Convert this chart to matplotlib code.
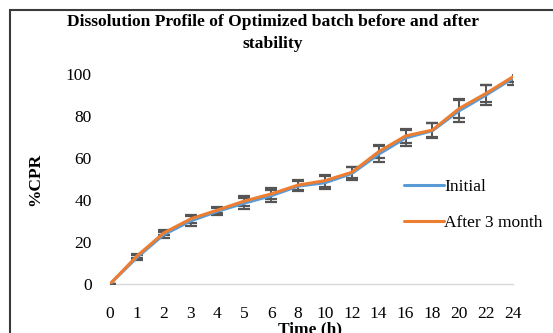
import matplotlib
matplotlib.use("Agg")
import matplotlib.pyplot as plt
from matplotlib.patches import Rectangle
import numpy as np

categories = ["0", "1", "2", "3", "4", "5", "6", "8", "10", "12", "14", "16", "18", "20", "22", "24"]
initial = [0, 12.6, 23.5, 30.0, 34.6, 38.5, 42.0, 46.6, 48.2, 52.6, 61.8, 69.5, 73.0, 82.5, 90.0, 98.0]
after_3_month = [0, 13.3, 24.3, 31.0, 35.2, 39.5, 42.9, 47.1, 49.2, 53.2, 63.0, 70.5, 73.3, 83.6, 90.8, 98.7]
err_initial = [0, 1.2, 1.4, 2.3, 1.6, 2.6, 2.8, 2.5, 3.0, 2.9, 3.9, 3.6, 3.6, 5.2, 4.8, 3.0]
err_after = [0, 1.0, 1.2, 2.0, 1.5, 2.4, 2.6, 2.3, 2.8, 2.6, 3.0, 3.2, 3.4, 4.5, 4.2, 2.5]
series_names = ["Initial", "After 3 month"]
title = "Dissolution Profile of Optimized batch before and after\nstability"

W, H = 553, 333
fig = plt.figure(figsize=(W / 100, H / 100), dpi=100)
serif = "Liberation Serif"

ax = fig.add_axes([110 / W, (H - 284) / H, (513 - 110) / W, (284 - 74) / H])
x = np.arange(len(categories))

ax.errorbar(x, initial, yerr=err_initial, fmt="none", ecolor="#555555",
            elinewidth=1.3, capsize=4, capthick=1.6, zorder=2)
ax.errorbar(x, after_3_month, yerr=err_after, fmt="none", ecolor="#555555",
            elinewidth=1.3, capsize=4, capthick=1.6, zorder=2)
ax.plot(x, initial, color="#5B9BD5", lw=2.2, label=series_names[0], zorder=3,
        solid_capstyle="round")
ax.plot(x, after_3_month, color="#ED7D31", lw=2.2, label=series_names[1], zorder=4,
        solid_capstyle="round")

ax.set_xlim(0, len(categories) - 1)
ax.set_ylim(0, 100)
ax.set_xticks(x)
ax.set_xticklabels(categories, fontfamily=serif, fontsize=12.5)
ax.set_yticks([0, 20, 40, 60, 80, 100])
ax.set_yticklabels(["0", "20", "40", "60", "80", "100"], fontfamily=serif, fontsize=12.5)
ax.tick_params(axis="both", length=0)
ax.tick_params(axis="y", pad=13)
ax.tick_params(axis="x", pad=16)
for s in ["top", "right", "left"]:
    ax.spines[s].set_visible(False)
ax.spines["bottom"].set_color("#D9D9D9")
ax.spines["bottom"].set_linewidth(1.0)
ax.spines["bottom"].set_zorder(1)

fig.text(310 / W, 1 - 329 / H, "Time (h)", ha="center", va="center",
         fontfamily=serif, fontweight="bold", fontsize=12.5)
fig.text(35 / W, 1 - 179 / H, "%CPR", ha="center", va="center", rotation=90,
         fontfamily=serif, fontweight="bold", fontsize=12.5)
fig.text(273 / W, 1 - 33 / H, title, ha="center", va="center", multialignment="center",
         fontfamily=serif, fontweight="bold", fontsize=12.6, linespacing=1.45)

leg = fig.legend(loc="upper left", bbox_to_anchor=(404 / W, 1 - 179 / H),
                 frameon=False, prop={"family": serif, "size": 12.5},
                 handlelength=2.3, handletextpad=0.0, labelspacing=1.15,
                 borderaxespad=0, borderpad=0)

fig.patches.append(Rectangle((10 / W, -0.1), 1.2, 1 - 10 / H + 0.1, transform=fig.transFigure,
                             fill=False, edgecolor="#3a3a3a", lw=1.5))

fig.savefig("out.png", dpi=100)
